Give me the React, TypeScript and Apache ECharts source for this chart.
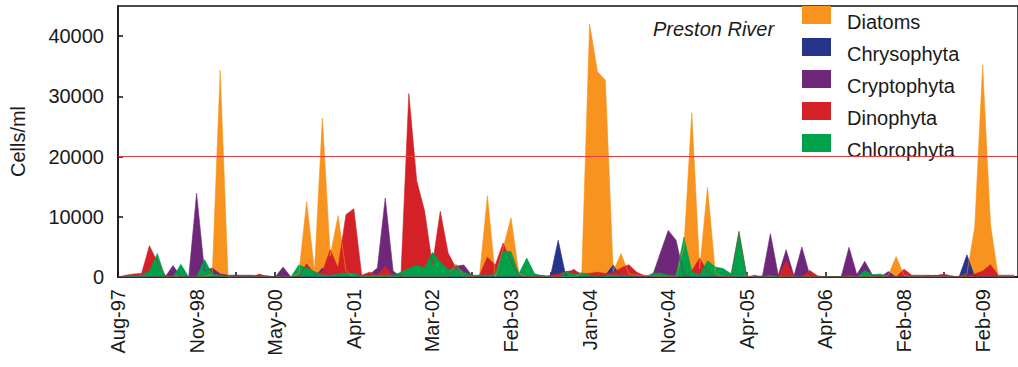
import React, { useEffect, useRef } from "react";
import * as echarts from "echarts";

// Sample index along the x axis (uneven dates, evenly spaced samples)
const xLabels = ["Aug-97", "Nov-98", "May-00", "Apr-01", "Mar-02", "Feb-03", "Jan-04", "Nov-04", "Apr-05", "Apr-06", "Feb-08", "Feb-09"];
const yTicks = [0, 10000, 20000, 30000, 40000];
const threshold = 20000;
const seriesNames = ["Diatoms", "Chrysophyta", "Cryptophyta", "Dinophyta", "Chlorophyta"];
const seriesColors = ["#F7931E", "#27348B", "#6E2779", "#D42027", "#00A14B"];

const diatoms = [
  0, 0, 0, 0, 0, 0, 0, 0, 0, 0,
  0, 0, 500, 34300, 0, 0, 0, 0, 0, 0,
  0, 0, 0, 500, 12500, 1000, 26400, 3500, 10200, 1000,
  0, 0, 0, 0, 0, 0, 0, 0, 0, 0,
  0, 0, 0, 2200, 0, 0, 300, 13500, 0, 4800,
  9850, 600, 0, 0, 0, 0, 0, 0, 0, 500,
  42000, 34100, 32700, 900, 3900, 500, 300, 300, 200, 0,
  0, 0, 5000, 27300, 1400, 14900, 600, 0, 0, 0,
  200, 0, 0, 0, 0, 0, 0, 0, 0, 0,
  0, 0, 0, 0, 0, 0, 0, 0, 300, 3400,
  300, 0, 0, 0, 0, 0, 0, 0, 500, 8300,
  35200, 8700, 0, 200, 200,
];

const chrysophyta = [
  0, 0, 0, 0, 0, 0, 0, 0, 0, 0,
  0, 0, 0, 0, 0, 0, 0, 0, 0, 0,
  0, 0, 0, 0, 0, 0, 0, 0, 0, 0,
  0, 0, 0, 0, 0, 0, 0, 0, 0, 0,
  0, 0, 0, 0, 0, 0, 0, 0, 0, 0,
  0, 0, 0, 0, 0, 0, 6100, 0, 0, 0,
  0, 0, 300, 2000, 0, 0, 0, 0, 0, 0,
  0, 0, 0, 0, 0, 0, 0, 0, 0, 0,
  0, 0, 0, 0, 0, 0, 0, 0, 0, 0,
  0, 0, 0, 0, 0, 0, 0, 0, 0, 0,
  0, 0, 0, 0, 0, 0, 0, 0, 3700, 0,
  0, 0, 0, 0, 0,
];

const cryptophyta = [
  0, 0, 0, 0, 0, 0, 0, 1900, 0, 0,
  13900, 1000, 1500, 500, 300, 300, 300, 300, 200, 200,
  0, 1650, 0, 0, 0, 0, 1500, 0, 0, 0,
  0, 200, 400, 1500, 13100, 1000, 0, 0, 0, 0,
  0, 0, 0, 1800, 2000, 300, 0, 0, 0, 0,
  0, 0, 0, 0, 300, 0, 0, 300, 1300, 0,
  0, 0, 0, 0, 0, 0, 0, 0, 200, 4000,
  7740, 6100, 300, 0, 0, 0, 0, 0, 0, 0,
  0, 0, 200, 7200, 300, 4530, 200, 4980, 300, 0,
  0, 0, 0, 4920, 400, 2600, 300, 0, 900, 0,
  0, 0, 0, 200, 300, 0, 0, 0, 300, 300,
  0, 0, 0, 0, 0,
];

const dinophyta = [
  0, 300, 500, 600, 5200, 2500, 300, 0, 0, 0,
  0, 0, 0, 0, 0, 0, 0, 0, 500, 0,
  0, 0, 0, 0, 2200, 500, 800, 4540, 1500, 10350,
  11350, 300, 800, 300, 1800, 200, 300, 30450, 16000, 11000,
  2000, 10900, 4000, 1500, 300, 0, 300, 3300, 2000, 5650,
  2500, 300, 0, 0, 0, 300, 500, 900, 1100, 500,
  600, 800, 600, 700, 1500, 2040, 800, 200, 0, 0,
  0, 0, 0, 1000, 3150, 800, 0, 0, 0, 7600,
  0, 300, 0, 0, 0, 2700, 0, 0, 1100, 200,
  0, 0, 0, 300, 0, 0, 0, 200, 0, 0,
  1300, 300, 300, 300, 200, 500, 200, 0, 300, 500,
  1000, 2040, 300, 300, 300,
];

const chlorophyta = [
  0, 0, 100, 300, 1000, 3900, 0, 0, 2100, 0,
  0, 2900, 500, 300, 0, 0, 0, 0, 0, 0,
  0, 0, 0, 2000, 1500, 900, 300, 300, 500, 660,
  660, 200, 200, 300, 300, 300, 800, 1400, 2000, 1500,
  4090, 2500, 1200, 1700, 800, 300, 300, 300, 400, 4250,
  4250, 550, 3150, 550, 200, 0, 0, 930, 400, 700,
  300, 0, 300, 300, 300, 300, 0, 0, 600, 660,
  300, 300, 6640, 900, 300, 2700, 1660, 1400, 550, 7400,
  0, 0, 0, 300, 0, 0, 0, 0, 0, 0,
  0, 0, 0, 0, 0, 1100, 400, 500, 0, 0,
  0, 0, 0, 0, 0, 0, 0, 0, 0, 0,
  0, 0, 0, 0, 0,
];

const allValues = [diatoms, chrysophyta, cryptophyta, dinophyta, chlorophyta];

const FONT = "'Liberation Sans', Arial, Helvetica, sans-serif";
// legend swatch (29x18) sitting at the top of a 29x32 item box, so the label sits lower than the swatch
const LEGEND_ICON = "path://M0,0L29,0L29,18L0,18ZM0,32";

export default function App() {
  const ref = useRef<HTMLDivElement>(null);

  useEffect(() => {
    if (!ref.current) return;
    const chart = echarts.init(ref.current, undefined, { renderer: "svg" });

    const areaSeries = allValues.map((vals, k) => ({
      name: seriesNames[k],
      type: "line",
      data: vals.map((v, i) => [i, v]),
      symbol: "none",
      showSymbol: false,
      color: seriesColors[k],
      lineStyle: { width: 0.6, color: seriesColors[k] },
      areaStyle: { color: seriesColors[k], opacity: 1 },
      itemStyle: { color: seriesColors[k] },
      z: 2,
      clip: true,
      silent: true,
    }));

    chart.setOption({
      animation: false,
      backgroundColor: "#ffffff",
      textStyle: { fontFamily: FONT },
      title: {
        text: "Preston River",
        left: 653,
        top: 19,
        padding: 0,
        textStyle: { fontFamily: FONT, fontStyle: "italic", fontWeight: "normal", fontSize: 20, color: "#1a1a1a" },
      },
      legend: {
        data: seriesNames,
        orient: "vertical",
        left: 802,
        top: 6,
        padding: 0,
        icon: LEGEND_ICON,
        itemWidth: 29,
        itemHeight: 32,
        itemGap: 0,
        selectedMode: false,
        textStyle: { fontFamily: FONT, fontSize: 20, color: "#1a1a1a", padding: [0, 0, 0, 11] },
      },
      grid: {
        left: 118,
        right: -2,
        top: 6,
        bottom: 90,
        show: true,
        borderColor: "#111",
        borderWidth: 1.5,
        containLabel: false,
      },
      xAxis: {
        type: "value",
        min: 0,
        max: 114.5,
        interval: 5,
        splitLine: { show: false },
        axisLine: { show: true, lineStyle: { color: "#111", width: 1.5 } },
        axisTick: { show: true, inside: true, length: 5, lineStyle: { color: "#111", width: 1.5 } },
        axisLabel: {
          rotate: 90,
          margin: 12,
          fontSize: 20,
          fontFamily: FONT,
          color: "#1a1a1a",
          showMaxLabel: false,
          formatter: (v: number) => {
            const r = Math.round(v);
            if (Math.abs(v - r) > 1e-6 || r % 10 !== 0) return "";
            return xLabels[r / 10] ?? "";
          },
        },
      },
      yAxis: {
        type: "value",
        min: 0,
        max: 45000,
        interval: 10000,
        name: "Cells/ml",
        nameLocation: "middle",
        nameGap: 90,
        nameRotate: 90,
        nameTextStyle: { fontSize: 20, fontFamily: FONT, color: "#1a1a1a" },
        splitLine: { show: false },
        axisLine: { show: true, lineStyle: { color: "#111", width: 1.5 } },
        axisTick: { show: true, inside: true, length: 5, lineStyle: { color: "#111", width: 1.5 } },
        axisLabel: {
          fontSize: 20,
          fontFamily: FONT,
          color: "#1a1a1a",
          margin: 14,
          showMaxLabel: false,
          formatter: (v: number) => (yTicks.includes(v) ? String(v) : ""),
        },
      },
      series: [
        {
          name: "threshold",
          type: "line",
          data: [],
          z: 1,
          silent: true,
          markLine: {
            silent: true,
            symbol: "none",
            label: { show: false },
            lineStyle: { color: "#E2403C", width: 1, type: "solid" },
            data: [{ yAxis: threshold }],
          },
        },
        ...areaSeries,
      ],
    });

    return () => chart.dispose();
  }, []);

  return (
    <div
      ref={ref}
      style={{ position: "absolute", left: 0, top: 0, width: 1018, height: 367 }}
    />
  );
}
